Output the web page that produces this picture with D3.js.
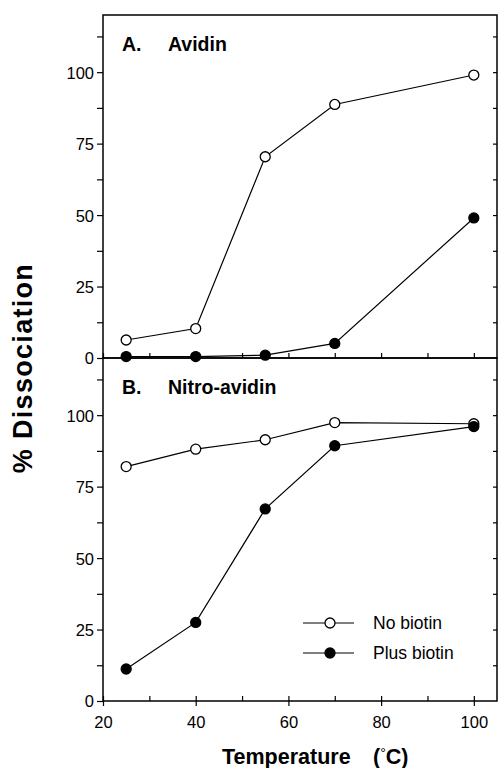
<!DOCTYPE html>
<html><head><meta charset="utf-8">
<script src="https://cdn.jsdelivr.net/npm/d3@7/dist/d3.min.js"></script>
<style>body{margin:0;background:#fff}svg{display:block}text{font-family:"Liberation Sans",Arial,sans-serif;fill:#000}</style>
</head><body><svg id="c" width="499" height="768"></svg>
<script>
const temps = [25, 40, 55, 70, 100];
const avidinNoBiotin = [6.3, 10.3, 70.4, 88.7, 99];
const avidinPlusBiotin = [0.5, 0.5, 1, 5.1, 49];
const nitroNoBiotin = [82, 88.1, 91.4, 97.4, 97];
const nitroPlusBiotin = [11.2, 27.5, 67.2, 89.3, 96];
const xTickLabels = [20, 40, 60, 80, 100];
const yTickLabels = [0, 25, 50, 75, 100];
const seriesNames = ["No biotin", "Plus biotin"];

const svg = d3.select("#c");
const x = d3.scaleLinear().domain([20, 105]).range([103, 497]);
const panels = [
  {label: "A.", name: "Avidin", top: 15, bottom: 358, data: [avidinNoBiotin, avidinPlusBiotin], xLabels: false},
  {label: "B.", name: "Nitro-avidin", top: 358, bottom: 701, data: [nitroNoBiotin, nitroPlusBiotin], xLabels: true}
];
const minorY = d3.range(0, 120.1, 12.5);
const minorX = d3.range(20, 105, 10);

panels.forEach((p, pi) => {
  const y = d3.scaleLinear().domain([0, 120]).range([p.bottom, p.top]);
  const g = svg.append("g");
  g.append("rect").attr("x", x(20)).attr("y", p.top).attr("width", x(105) - x(20)).attr("height", p.bottom - p.top)
    .attr("fill", "none").attr("stroke", "#000").attr("stroke-width", 1.5);
  const ya = g.append("g").attr("transform", `translate(${x(20)},0)`)
    .call(d3.axisLeft(y).tickValues(minorY).tickSize(6).tickPadding(3)
      .tickFormat(d => yTickLabels.includes(d) ? d : ""));
  ya.select(".domain").remove();
  ya.selectAll("line").attr("stroke-width", 1.2);
  ya.selectAll("text").attr("font-size", 16.5).attr("dy", "0.36em");
  const yr = g.append("g").attr("transform", `translate(${x(105)},0)`)
    .call(d3.axisLeft(y).tickValues(minorY.filter(v => v > 0 && v < 120)).tickSize(4).tickFormat(""));
  yr.select(".domain").remove();
  yr.selectAll("line").attr("stroke-width", 1.2);
  const xa = g.append("g").attr("transform", `translate(0,${p.bottom})`)
    .call(d3.axisBottom(x).tickValues(minorX).tickSize(-5).tickPadding(15)
      .tickFormat(d => p.xLabels && xTickLabels.includes(d) ? d : ""));
  xa.select(".domain").remove();
  xa.selectAll("line").attr("stroke-width", 1.2);
  xa.selectAll("text").attr("font-size", 16.5);
  if (p.xLabels) {
    xa.selectAll(".tick").filter(d => xTickLabels.includes(d)).append("line")
      .attr("y1", 0).attr("y2", 5).attr("stroke", "#000").attr("stroke-width", 1.2);
  }
  g.append("text").attr("x", 122).attr("y", p.top + 36).attr("font-size", 19.5).attr("font-weight", "bold").text(p.label);
  g.append("text").attr("x", 168).attr("y", p.top + 36).attr("font-size", 19.5).attr("font-weight", "bold").text(p.name);
  const line = d3.line().x((d, i) => x(temps[i])).y(d => y(d));
  p.data.forEach((vals, si) => {
    g.append("path").datum(vals).attr("d", line).attr("fill", "none").attr("stroke", "#000").attr("stroke-width", 1.2);
    g.selectAll(null).data(vals).enter().append("circle")
      .attr("cx", (d, i) => x(temps[i])).attr("cy", d => y(d)).attr("r", 5)
      .attr("fill", si === 0 ? "#fff" : "#000").attr("stroke", "#000").attr("stroke-width", 1.3);
  });
});

seriesNames.forEach((n, i) => {
  const ly = 623 + i * 30;
  svg.append("line").attr("x1", 303).attr("x2", 354).attr("y1", ly).attr("y2", ly).attr("stroke", "#000").attr("stroke-width", 1.2);
  svg.append("circle").attr("cx", 330).attr("cy", ly).attr("r", 5).attr("fill", i === 0 ? "#fff" : "#000").attr("stroke", "#000").attr("stroke-width", 1.3);
  svg.append("text").attr("x", 373).attr("y", ly + 6).attr("font-size", 17.5).text(n);
});

svg.append("text").attr("transform", "translate(32,368) rotate(-90)").attr("text-anchor", "middle")
  .attr("font-size", 27).attr("font-weight", "bold").attr("letter-spacing", 1.3).text("% Dissociation");
const xt = svg.append("text").attr("x", 222).attr("y", 764).attr("font-size", 21.5).attr("font-weight", "bold");
xt.append("tspan").text("Temperature");
xt.append("tspan").attr("x", 373).text("(");
xt.append("tspan").attr("font-weight", "normal").attr("font-size", 14).attr("dy", -6).text("°");
xt.append("tspan").attr("dy", 6).text("C)");
</script></body></html>
